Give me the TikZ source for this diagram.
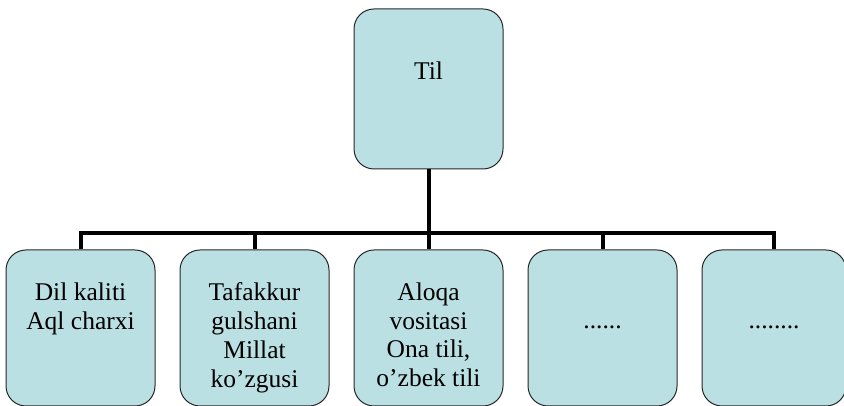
\documentclass[tikz,border=0pt]{standalone}
\usepackage{fontspec}
\setmainfont{Liberation Serif}
\usetikzlibrary{positioning}
\definecolor{boxfill}{RGB}{187,224,227}
\tikzset{
    x=1pt, y=1pt,
    node distance=24pt, % gap between the boxes of one row
    box/.style={draw=black!85, fill=boxfill, line width=1pt, rounded corners=20pt,
        minimum width=149pt, minimum height=156pt, inner sep=0pt},
    lbl/.style={font=\fontsize{25.5}{28.8}\selectfont, align=center, inner sep=0pt},
    conn/.style={line width=4pt},
    }
\begin{document}
\begin{tikzpicture}
\useasboundingbox (0,0) rectangle (844,406);
\node[box, minimum height=160pt] (til) at (428.5,317) {};
\node[box, below=80pt of til] (d3) {};
\node[box, left=of d3] (d2) {};
\node[box, left=of d2] (d1) {};
\node[box, right=of d3] (d4) {};
\node[box, right=of d4, minimum width=144pt] (d5) {};

% texts
\node[lbl, anchor=base] (ttil) at ([yshift=-71pt]til.north) {Til};
\node[lbl, anchor=north] (t1) at ([yshift=-33pt]d1.north) {Dil kaliti\\Aql charxi};
\node[lbl, anchor=north] (t2) at ([yshift=-33pt]d2.north) {Tafakkur\\gulshani\\Millat\\ko’zgusi};
\node[lbl, anchor=north] (t3) at ([yshift=-33pt]d3.north) {Aloqa\\vositasi\\Ona tili,\\o’zbek tili};
\node[lbl, anchor=base] (t4) at ([yshift=-79pt]d4.north) {......};
\node[lbl, anchor=base] (t5) at ([yshift=-79pt]d5.north) {........};

% connectors
\coordinate (bus) at ([yshift=16pt]d3.north);
\draw[conn] (til.south) -- (bus);
\draw[conn] (d1.north) -- (d1.north |- bus) -- (d5.north |- bus) -- (d5.north);
\foreach \i in {2,3,4}
    \draw[conn] (d\i.north) -- (d\i.north |- bus);
\end{tikzpicture}
\end{document}
